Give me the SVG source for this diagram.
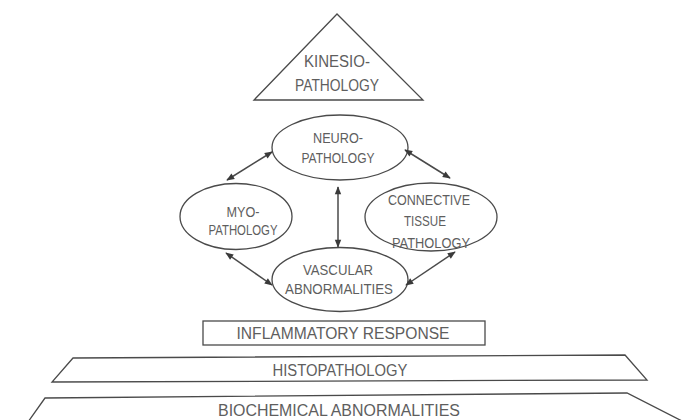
<svg xmlns="http://www.w3.org/2000/svg" width="682" height="420" viewBox="0 0 682 420">
<defs>
<style>
.s{fill:none;stroke:#4a4a4a;stroke-width:1.3}
.t{font-family:"Liberation Sans",Arial,sans-serif;fill:#5e5e5e;text-anchor:middle;font-size:15px}
.b{font-size:16px}
.c{stroke:#4a4a4a;stroke-width:1.5;fill:none;marker-start:url(#ah);marker-end:url(#ah)}
</style>
<marker id="ah" viewBox="0 0 10 10" refX="9" refY="5" markerWidth="9" markerHeight="8" markerUnits="userSpaceOnUse" orient="auto-start-reverse">
<path d="M0,1 L10,5 L0,9 Z" fill="#3a3a3a"/>
</marker>
</defs>
<rect width="682" height="420" fill="#fff"/>
<g id="kinesio">
<polygon class="s" points="337,14 254,100 423,100"/>
<text class="t b" x="337" y="67" textLength="66" lengthAdjust="spacingAndGlyphs">KINESIO-</text>
<text class="t b" x="337" y="91" textLength="84" lengthAdjust="spacingAndGlyphs">PATHOLOGY</text>
</g>
<g id="neuro">
<ellipse class="s" cx="340" cy="147.5" rx="68" ry="32.5"/>
<text class="t" x="338" y="143" textLength="50" lengthAdjust="spacingAndGlyphs">NEURO-</text>
<text class="t" x="338" y="162.5" textLength="73" lengthAdjust="spacingAndGlyphs">PATHOLOGY</text>
</g>
<g id="myo">
<ellipse class="s" cx="236" cy="216.5" rx="56" ry="33"/>
<text class="t" x="243" y="217" textLength="33" lengthAdjust="spacingAndGlyphs">MYO-</text>
<text class="t" x="243" y="234.5" textLength="69" lengthAdjust="spacingAndGlyphs">PATHOLOGY</text>
</g>
<g id="connective">
<ellipse class="s" cx="431" cy="217" rx="66" ry="34"/>
<text class="t" x="429" y="205" textLength="82" lengthAdjust="spacingAndGlyphs">CONNECTIVE</text>
<text class="t" x="425" y="226" textLength="42" lengthAdjust="spacingAndGlyphs">TISSUE</text>
<text class="t" x="431" y="248" textLength="78" lengthAdjust="spacingAndGlyphs">PATHOLOGY</text>
</g>
<g id="vascular">
<ellipse class="s" cx="340" cy="279.5" rx="68" ry="32"/>
<text class="t" x="338" y="274.5" textLength="70" lengthAdjust="spacingAndGlyphs">VASCULAR</text>
<text class="t" x="339" y="293.5" textLength="108" lengthAdjust="spacingAndGlyphs">ABNORMALITIES</text>
</g>
<g id="connectors">
<line class="c" x1="272" y1="152" x2="227" y2="180"/>
<line class="c" x1="405" y1="150" x2="450" y2="178"/>
<line class="c" x1="338" y1="187" x2="338" y2="247"/>
<line class="c" x1="226" y1="253" x2="272" y2="285"/>
<line class="c" x1="455" y1="252" x2="406" y2="285"/>
</g>
<g id="inflammatory">
<rect class="s" x="203" y="321" width="282" height="24"/>
<text class="t b" x="343" y="339" textLength="213" lengthAdjust="spacingAndGlyphs">INFLAMMATORY RESPONSE</text>
</g>
<g id="histopathology">
<polygon class="s" points="73,358 625,355 647,380 52,382"/>
<text class="t b" x="340" y="376" textLength="135" lengthAdjust="spacingAndGlyphs">HISTOPATHOLOGY</text>
</g>
<g id="biochemical">
<polyline class="s" points="28,422 45,398 627,393 684,422"/>
<text class="t b" x="339" y="416" textLength="242" lengthAdjust="spacingAndGlyphs">BIOCHEMICAL ABNORMALITIES</text>
</g>
</svg>
